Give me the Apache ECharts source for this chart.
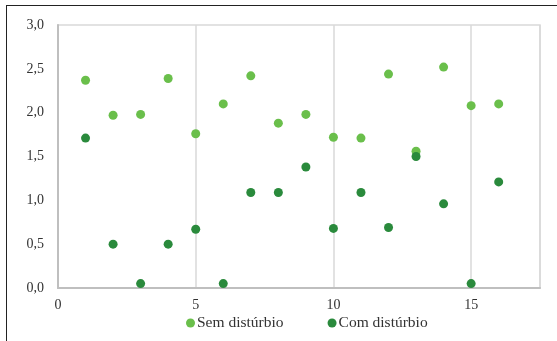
<!DOCTYPE html>
<html><head><meta charset="utf-8">
<script src="https://cdn.jsdelivr.net/npm/echarts@6/dist/echarts.min.js"></script>
<style>
html,body{margin:0;padding:0;background:#fff;}
#frame{position:absolute;left:6px;top:5px;width:600px;height:400px;border-left:1.5px solid #222;border-top:1.5px solid #222;}
#c{position:absolute;left:0;top:0;width:557px;height:341px;}
</style></head>
<body>
<div id="frame"></div>
<div id="c"></div>
<script>
const xValues = [1,2,3,4,5,6,7,8,9,10,11,12,13,14,15,16];
const semDisturbio = [2.37,1.97,1.98,2.39,1.76,2.10,2.42,1.88,1.98,1.72,1.71,2.44,1.56,2.52,2.08,2.10];
const comDisturbio = [1.71,0.50,0.05,0.50,0.67,0.05,1.09,1.09,1.38,0.68,1.09,0.69,1.50,0.96,0.05,1.21];
const seriesNames = ['Sem distúrbio','Com distúrbio'];

const font = 'Liberation Serif';
const chart = echarts.init(document.getElementById('c'));
chart.setOption({
  animation:false,
  grid:{left:58,right:17,top:25,bottom:53,show:true,borderColor:'#d9d9d9',borderWidth:1.5,containLabel:false},
  legend:{bottom:5,left:181,itemGap:44,itemWidth:9,itemHeight:9,icon:'circle',
    textStyle:{fontFamily:font,fontSize:15.5,color:'#333',padding:[0,0,0,-3]},
    data:seriesNames},
  xAxis:{type:'value',min:0,max:17.5,interval:5,
    axisLine:{show:true,lineStyle:{color:'#bfbfbf',width:2}},
    axisTick:{show:false},
    splitLine:{show:true,lineStyle:{color:'#d9d9d9',width:1.5}},
    axisLabel:{fontFamily:font,fontSize:14,color:'#333',margin:10,
      formatter:v=> (v%5===0 && v<=15)? String(v):''}},
  yAxis:{type:'value',min:0,max:3,interval:0.5,
    axisLine:{show:true,lineStyle:{color:'#bfbfbf',width:2}},
    axisTick:{show:false},
    splitLine:{show:false},
    axisLabel:{fontFamily:font,fontSize:14,color:'#333',margin:14,
      formatter:v=>v.toFixed(1).replace('.',',')}},
  series:[
    {name:seriesNames[0],type:'scatter',symbolSize:9,itemStyle:{color:'#6abf4b',opacity:1},
     data:xValues.map((x,i)=>[x,semDisturbio[i]])},
    {name:seriesNames[1],type:'scatter',symbolSize:9,itemStyle:{color:'#2a8a3c',opacity:1},
     data:xValues.map((x,i)=>[x,comDisturbio[i]])}
  ]
});
</script>
</body></html>
